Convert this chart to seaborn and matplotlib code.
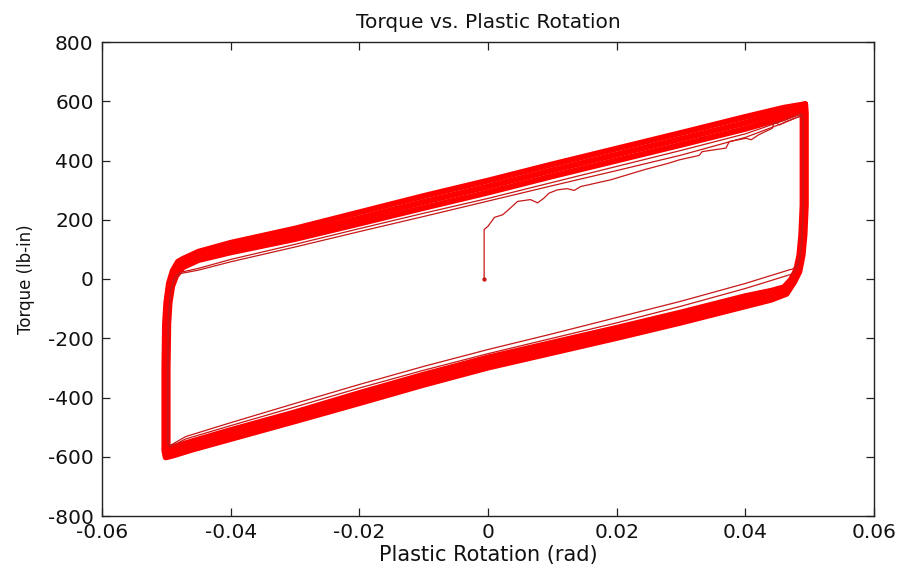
import matplotlib
matplotlib.use("Agg")
import matplotlib.pyplot as plt
import seaborn as sns
from matplotlib.ticker import FixedLocator, FixedFormatter

# ---------------- data ----------------
title = "Torque vs. Plastic Rotation"
xlabel = "Plastic Rotation (rad)"
ylabel = "Torque (lb-in)"
xticks = [-0.06, -0.04, -0.02, 0.0, 0.02, 0.04, 0.06]
xticklabels = ["-0.06", "-0.04", "-0.02", "0", "0.02", "0.04", "0.06"]
yticks = [-800, -600, -400, -200, 0, 200, 400, 600, 800]
yticklabels = ["-800", "-600", "-400", "-200", "0", "200", "400", "600", "800"]

# initial (monotonic) loading curve
init_x = [-0.0006, -0.0006, 0.0000, 0.0010, 0.0023, 0.0035, 0.0046, 0.0066, 0.0077,
          0.0087, 0.0095, 0.0108, 0.0123, 0.0134, 0.0144, 0.0191, 0.0243, 0.0281,
          0.0297, 0.0328, 0.0333, 0.0370, 0.0375, 0.0401, 0.0409, 0.0421, 0.0442,
          0.0445, 0.0453, 0.0463, 0.0489]
init_t = [0, 167, 178, 208, 217, 240, 262, 268, 257, 273, 290, 301, 305, 299, 312,
          335, 369, 391, 402, 417, 430, 442, 464, 475, 470, 487, 509, 531, 520, 531, 552]

# early (thin) cycles: right side, lower branch, left side, upper branch
e1_x = [0.0489, 0.0490, 0.0490, 0.0488, 0.0485, 0.0480, 0.0473,
        0.047, 0.040, 0.030, 0.020, 0.010, 0.000, -0.010, -0.020, -0.030, -0.040, -0.047,
        -0.0494, -0.0497, -0.0497, -0.0496, -0.0493, -0.0487, -0.0479,
        -0.045, -0.040, -0.030, -0.020, -0.010, 0.000, 0.010, 0.020, 0.030, 0.040, 0.046, 0.0488]
e1_t = [552, 520, 250, 140, 80, 45, 33,
        32, -15, -75, -130, -185, -238, -295, -356, -420, -485, -532,
        -562, -550, -300, -120, -40, 0, 18,
        30, 58, 108, 160, 211, 263, 315, 366, 418, 478, 527, 553]
e2_x = [0.0488, 0.0490, 0.0490, 0.0488, 0.0485, 0.0479, 0.0472,
        0.047, 0.040, 0.030, 0.020, 0.010, 0.000, -0.010, -0.020, -0.030, -0.040, -0.047,
        -0.0495, -0.0498, -0.0498, -0.0497, -0.0494, -0.0488, -0.0479,
        -0.045, -0.040, -0.030, -0.020, -0.010, 0.000, 0.010, 0.020, 0.030, 0.040, 0.046, 0.0488]
e2_t = [553, 530, 250, 130, 70, 30, 16,
        15, -32, -92, -148, -200, -252, -308, -368, -432, -495, -540,
        -568, -555, -300, -120, -40, 2, 22,
        36, 66, 117, 170, 222, 272, 326, 380, 434, 490, 535, 558]

# stabilised cycles forming the thick band
band_a_x = [0.0488, 0.0489, 0.0489, 0.0487, 0.0484, 0.0479, 0.0471, 0.0460,
            0.044, 0.040, 0.030, 0.020, 0.010, 0.000, -0.010, -0.020, -0.030, -0.040, -0.046, -0.0490,
            -0.0496, -0.0498, -0.0498, -0.0497, -0.0495, -0.0491, -0.0485, -0.0478,
            -0.0474, -0.045, -0.040, -0.030, -0.020, -0.010, 0.000, 0.010, 0.020, 0.030, 0.040, 0.046, 0.0488]
band_a_t = [568, 540, 250, 150, 80, 30, -2, -28,
            -40, -58, -113, -165, -215, -265, -323, -385, -450, -510, -548, -568,
            -580, -560, -300, -150, -80, -25, 10, 30,
            40, 64, 90, 135, 187, 240, 292, 347, 400, 453, 507, 544, 568]
band_b_x = [0.0491, 0.0492, 0.0492, 0.0490, 0.0487, 0.0482, 0.0474, 0.0462,
            0.044, 0.040, 0.030, 0.020, 0.010, 0.000, -0.010, -0.020, -0.030, -0.040, -0.046, -0.0490,
            -0.0499, -0.0501, -0.0501, -0.0500, -0.0498, -0.0494, -0.0488, -0.0480,
            -0.0474, -0.045, -0.040, -0.030, -0.020, -0.010, 0.000, 0.010, 0.020, 0.030, 0.040, 0.046, 0.0491]
band_b_t = [580, 550, 250, 150, 80, 28, -5, -38,
            -55, -75, -130, -182, -232, -282, -340, -402, -465, -525, -562, -582,
            -592, -570, -300, -150, -80, -20, 18, 45,
            55, 78, 105, 152, 205, 260, 312, 367, 420, 473, 527, 562, 580]
band_c_x = [0.0493, 0.0494, 0.0494, 0.0492, 0.0489, 0.0484, 0.0476, 0.0464,
            0.044, 0.040, 0.030, 0.020, 0.010, 0.000, -0.010, -0.020, -0.030, -0.040, -0.046, -0.0490,
            -0.0501, -0.0503, -0.0503, -0.0502, -0.0500, -0.0496, -0.0490, -0.0482,
            -0.0474, -0.045, -0.040, -0.030, -0.020, -0.010, 0.000, 0.010, 0.020, 0.030, 0.040, 0.046, 0.0493]
band_c_t = [590, 560, 250, 150, 80, 25, -10, -50,
            -70, -92, -147, -199, -249, -299, -357, -419, -480, -540, -576, -596,
            -602, -580, -300, -150, -80, -15, 28, 58,
            68, 92, 122, 170, 225, 280, 332, 387, 440, 493, 547, 578, 590]

# ---------------- styling ----------------
sns.set_style("ticks")
plt.rcParams["font.family"] = ["DejaVu Sans"]
plt.rcParams["axes.unicode_minus"] = False

W, H = 901, 571
fig = plt.figure(figsize=(W / 100, H / 100), dpi=100)
ax = fig.add_axes([102 / W, 55 / H, 772 / W, 474 / H])

BAND = "#ff0000"
THIN = "#c81818"

for bx, bt in [(band_a_x, band_a_t), (band_b_x, band_b_t), (band_c_x, band_c_t)]:
    sns.lineplot(x=bx, y=bt, sort=False, estimator=None, color=BAND, lw=4.3,
                 solid_joinstyle="round", solid_capstyle="round", ax=ax)

for ex, et in [(e1_x, e1_t), (e2_x, e2_t)]:
    sns.lineplot(x=ex, y=et, sort=False, estimator=None, color=THIN, lw=0.9, ax=ax)

sns.lineplot(x=init_x, y=init_t, sort=False, estimator=None, color=THIN, lw=0.9, ax=ax)
sns.scatterplot(x=init_x[:1], y=init_t[:1], color=THIN, s=8, edgecolor=THIN, ax=ax, zorder=5)

ax.set_xlim(-0.06, 0.06)
ax.set_ylim(-800, 800)
ax.xaxis.set_major_locator(FixedLocator(xticks))
ax.xaxis.set_major_formatter(FixedFormatter(xticklabels))
ax.yaxis.set_major_locator(FixedLocator(yticks))
ax.yaxis.set_major_formatter(FixedFormatter(yticklabels))

for s in ax.spines.values():
    s.set_visible(True)
    s.set_color("#222222")
    s.set_linewidth(1.0)
ax.tick_params(direction="in", length=5.5, width=0.9, colors="#222222",
               top=True, right=True, labelsize=14.5, pad=6)
ax.tick_params(axis="x", pad=5)
for lab in ax.get_xticklabels() + ax.get_yticklabels():
    lab.set_color("#111111")

ax.set_title(title, fontsize=14.5, pad=10, color="#111111")
ax.set_xlabel(xlabel, fontsize=15, labelpad=2, color="#111111")
ax.set_ylabel(ylabel, fontsize=12, labelpad=9, color="#111111",
              family=["Liberation Sans Narrow", "DejaVu Sans"])
ax.grid(False)

fig.savefig("out.png", dpi=100, facecolor="white")
